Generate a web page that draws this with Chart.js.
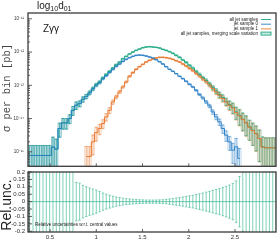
<!DOCTYPE html>
<html>
<head>
<meta charset="utf-8">
<script src="https://cdn.jsdelivr.net/npm/chart.js@4.4.1/dist/chart.umd.min.js"></script>
<style>
  body { margin: 0; background: #fff; }
  #wrap { position: relative; width: 277px; height: 240px; }
  canvas { position: absolute; left: 0; }
  #topCanvas { top: 0; }
  #relCanvas { top: 164px; }
</style>
</head>
<body>
<div id="wrap">
  <canvas id="topCanvas" width="277" height="173"></canvas>
  <canvas id="relCanvas" width="277" height="76"></canvas>
</div>
<script>
  // bin centres of log10(d01)
  const binCenters = [
    0.28, 0.316, 0.352, 0.388, 0.424, 0.46, 0.496, 0.532, 0.568, 0.604,
    0.64, 0.676, 0.712, 0.748, 0.784, 0.82, 0.856, 0.892, 0.928, 0.964,
    1.0, 1.036, 1.072, 1.108, 1.144, 1.18, 1.216, 1.252, 1.288, 1.324,
    1.36, 1.396, 1.432, 1.468, 1.504, 1.54, 1.576, 1.612, 1.648, 1.684,
    1.72, 1.756, 1.792, 1.828, 1.864, 1.9, 1.936, 1.972, 2.008, 2.044,
    2.08, 2.116, 2.152, 2.188, 2.224, 2.26, 2.296, 2.332, 2.368, 2.404,
    2.44, 2.476, 2.512, 2.548, 2.584, 2.62, 2.656, 2.692, 2.728, 2.764,
    2.8, 2.836, 2.872, 2.908, 2.944
  ];

  // sigma per bin [pb], stored as log10
  const allJetsLog = [
    -15.11, -15.11, -15.11, -15.11, -15.11, -15.11, -15.11, -14.86, -14.92, -14.3,
    -14.13, -14.13, -14.0, -13.75, -13.6, -13.55, -13.42, -13.33, -13.22, -13.1,
    -12.98, -12.9, -12.78, -12.68, -12.58, -12.48, -12.38, -12.3, -12.2, -12.13,
    -12.06, -12.0, -11.95, -11.91, -11.87, -11.85, -11.84, -11.85, -11.86, -11.88,
    -11.92, -11.95, -11.99, -12.04, -12.1, -12.16, -12.24, -12.31, -12.4, -12.48,
    -12.58, -12.67, -12.77, -12.85, -12.96, -13.07, -13.17, -13.28, -13.37, -13.48,
    -13.58, -13.66, -13.8, -13.9, -14.02, -14.12, -14.25, -14.35, -14.45, -14.6,
    -14.85, -14.88, -14.88, -14.88, -14.88
  ];
  const jet0Log = [
    -15.11, -15.11, -15.11, -15.11, -15.11, -15.11, -15.11, -14.86, -14.92, -14.3,
    -14.13, -14.13, -14.0, -13.75, -13.6, -13.55, -13.42, -13.34, -13.23, -13.11,
    -13.0, -12.92, -12.8, -12.71, -12.61, -12.52, -12.43, -12.36, -12.28, -12.22,
    -12.17, -12.13, -12.1, -12.09, -12.1, -12.12, -12.15, -12.18, -12.23, -12.29,
    -12.36, -12.44, -12.52, -12.58, -12.65, -12.73, -12.8, -12.88, -12.97, -13.05,
    -13.15, -13.28, -13.38, -13.5, -13.62, -13.8, -13.95, -14.1, -14.3, -14.5,
    -14.7, -14.95, -14.85, -15.2, null, null, null, null, null, null,
    null, null, null, null, null
  ];
  const jet1Log = [
    null, null, null, null, null, null, null, null, null, null,
    null, null, null, null, null, null, null, -15.14, -15.14, -14.7,
    -14.42, -14.3, -14.15, -13.95, -13.75, -13.5, -13.35, -13.2, -13.05, -12.9,
    -12.73, -12.62, -12.52, -12.44, -12.37, -12.3, -12.25, -12.21, -12.18, -12.16,
    -12.16, -12.17, -12.19, -12.22, -12.26, -12.3, -12.36, -12.42, -12.49, -12.56,
    -12.64, -12.72, -12.81, -12.89, -12.99, -13.1, -13.2, -13.3, -13.4, -13.5,
    -13.6, -13.68, -13.82, -13.92, -14.03, -14.13, -14.26, -14.36, -14.46, -14.6,
    -14.86, -14.88, -14.88, -14.88, -14.88
  ];

  // relative half-widths of the error boxes in the main panel
  const allJetsErr = [
    1, 1, 1, 1, 1, 1, 1, 1, 1, 0.45,
    0.35, 0.35, 0.3, 0.3, 0.25, 0.2, 0.18, 0.15, 0.13, 0.12,
    0.1, 0.09, 0.08, 0.07, 0.06, 0.05, 0.045, 0.04, 0.035, 0.03,
    0.025, 0.025, 0.025, 0.025, 0.025, 0.025, 0.025, 0.025, 0.025, 0.025,
    0.025, 0.03, 0.03, 0.035, 0.04, 0.045, 0.05, 0.055, 0.06, 0.07,
    0.08, 0.09, 0.1, 0.11, 0.13, 0.15, 0.17, 0.2, 0.22, 0.25,
    0.3, 0.35, 0.4, 0.5, 0.55, 0.6, 0.6, 0.65, 0.7, 0.8,
    1, 1, 1, 1, 1
  ];
  const jet0Err = [
    1, 1, 1, 1, 1, 1, 1, 1, 1, 0.45,
    0.35, 0.35, 0.3, 0.3, 0.25, 0.2, 0.18, 0.15, 0.13, 0.12,
    0.1, 0.09, 0.08, 0.07, 0.06, 0.05, 0.045, 0.04, 0.035, 0.03,
    0.025, 0.025, 0.025, 0.025, 0.025, 0.025, 0.025, 0.025, 0.025, 0.025,
    0.025, 0.025, 0.025, 0.025, 0.025, 0.025, 0.03, 0.035, 0.04, 0.05,
    0.06, 0.07, 0.08, 0.1, 0.12, 0.15, 0.18, 0.22, 0.28, 0.35,
    0.45, 0.6, 0.8, 1, 0, 0, 0, 0, 0, 0,
    0, 0, 0, 0, 0
  ];
  const jet1Err = [
    0, 0, 0, 0, 0, 0, 0, 0, 0, 0,
    0, 0, 0, 0, 0, 0, 0, 1, 1, 0.6,
    0.45, 0.35, 0.3, 0.25, 0.2, 0.15, 0.12, 0.1, 0.08, 0.07,
    0.06, 0.05, 0.04, 0.03, 0.03, 0.03, 0.03, 0.03, 0.03, 0.03,
    0.03, 0.03, 0.03, 0.03, 0.03, 0.03, 0.05, 0.055, 0.06, 0.07,
    0.08, 0.09, 0.1, 0.11, 0.13, 0.15, 0.17, 0.2, 0.22, 0.25,
    0.3, 0.35, 0.4, 0.5, 0.55, 0.6, 0.6, 0.65, 0.7, 0.8,
    1, 1, 1, 1, 1
  ];

  // lower panel: relative uncertainties w.r.t. central values
  const relUnc = [
    1, 1, 1, 1, 1, 1, 1, 1, 1, 0.45,
    0.35, 0.3, 0.28, 0.25, 0.13, 0.125, 0.11, 0.1, 0.092, 0.085,
    0.078, 0.068, 0.058, 0.05, 0.043, 0.037, 0.031, 0.027, 0.023, 0.02,
    0.018, 0.016, 0.014, 0.013, 0.012, 0.011, 0.011, 0.011, 0.011, 0.012,
    0.013, 0.015, 0.018, 0.021, 0.024, 0.027, 0.031, 0.035, 0.039, 0.043,
    0.048, 0.053, 0.058, 0.064, 0.07, 0.076, 0.082, 0.088, 0.095, 0.103,
    0.112, 0.122, 0.14, 0.17, 0.2, 1, 1, 1, 1, 1,
    1, 1, 1, 1, 1
  ];

  const xTicks = [0.5, 1, 1.5, 2, 2.5];
  const yTicksTop = [1e-15, 1e-14, 1e-13, 1e-12, 1e-11];
  const yTicksRel = [0.2, 0.15, 0.1, 0.05, 0, -0.05, -0.1, -0.15, -0.2];
  const yLabelsRel = ["0.2", "0.15", "0.1", "0.05", "0", "-0.05", "-0.1", "-0.15", "-0.2"];
  const legendLabels = ["all jet samples", "jet sample 0", "jet sample 1", "all jet samples, merging scale variation"];

  const TEAL = "#1fa884";
  const BLUE = "#2a7fc6";
  const ORANGE = "#e8772e";
  const FRAME = "#3a3a3a";

  Chart.defaults.font.family = "'Liberation Sans', Arial, sans-serif";
  Chart.defaults.color = "#333";

  const SUP = { "-": "\u207b", "0": "\u2070", "1": "\u00b9", "2": "\u00b2", "3": "\u00b3", "4": "\u2074", "5": "\u2075", "6": "\u2076", "7": "\u2077", "8": "\u2078", "9": "\u2079" };
  const powLabel = v => "10" + String(Math.round(Math.log10(v))).split("").map(c => SUP[c]).join("");

  const toPoints = logs => binCenters.map((c, i) => ({ x: c, y: logs[i] == null ? null : Math.pow(10, logs[i]) }));

  function clipArea(ctx, a) {
    ctx.beginPath();
    ctx.rect(a.left, a.top, a.right - a.left, a.bottom - a.top);
    ctx.clip();
  }

  // error boxes + bars for one histogram
  function drawBins(chart, logs, errs, color) {
    const { ctx, chartArea: a, scales: { x, y } } = chart;
    const half = (binCenters[1] - binCenters[0]) / 2;
    ctx.save();
    clipArea(ctx, a);
    ctx.lineWidth = 0.6;
    logs.forEach((lv, i) => {
      if (lv == null) return;
      const v = Math.pow(10, lv), e = errs[i];
      const yHi = y.getPixelForValue(v * (1 + e));
      const yLo = e >= 1 ? a.bottom + 2 : y.getPixelForValue(v * (1 - e));
      const xc = x.getPixelForValue(binCenters[i]);
      const x0 = x.getPixelForValue(binCenters[i] - half);
      const x1 = x.getPixelForValue(binCenters[i] + half);
      ctx.fillStyle = color + "1c";
      ctx.fillRect(x0, yHi, x1 - x0, yLo - yHi);
      ctx.strokeStyle = color + "55";
      ctx.strokeRect(x0, yHi, x1 - x0, yLo - yHi);
      ctx.strokeStyle = color + "cc";
      ctx.beginPath();
      ctx.moveTo(xc, yHi); ctx.lineTo(xc, yLo);
      ctx.moveTo(xc - 1.2, yHi); ctx.lineTo(xc + 1.2, yHi);
      ctx.moveTo(xc - 1.2, yLo); ctx.lineTo(xc + 1.2, yLo);
      ctx.stroke();
    });
    ctx.restore();
  }

  function drawFrame(chart, majorY, minorY) {
    const { ctx, chartArea: a, scales: { x, y } } = chart;
    ctx.save();
    ctx.strokeStyle = FRAME;
    ctx.lineWidth = 0.8;
    ctx.beginPath();
    majorY.forEach(v => { const p = y.getPixelForValue(v); ctx.moveTo(a.left, p); ctx.lineTo(a.left + 4, p); });
    minorY.forEach(v => { const p = y.getPixelForValue(v); ctx.moveTo(a.left, p); ctx.lineTo(a.left + 2, p); });
    xTicks.forEach(v => { const p = x.getPixelForValue(v); ctx.moveTo(p, a.bottom); ctx.lineTo(p, a.bottom - 3); });
    ctx.stroke();
    ctx.lineWidth = 1.3;
    ctx.strokeRect(a.left, a.top, a.right - a.left, a.bottom - a.top);
    ctx.restore();
  }

  const logMinor = [];
  for (let n = -16; n <= -11; n++) for (let k = 2; k <= 9; k++) logMinor.push(k * Math.pow(10, n));
  const relMinor = [];
  for (let k = -20; k <= 20; k++) relMinor.push(k / 100);

  const topDecor = {
    id: "topDecor",
    beforeDatasetsDraw(chart) {
      drawBins(chart, jet0Log, jet0Err, BLUE);
      drawBins(chart, jet1Log, jet1Err, ORANGE);
      drawBins(chart, allJetsLog, allJetsErr, TEAL);
    },
    afterDraw(chart) {
      const { ctx, scales: { y } } = chart;
      drawFrame(chart, yTicksTop, logMinor.filter(v => v > y.min && v < y.max));
      ctx.save();
      ctx.fillStyle = "#222";
      // title
      let tx = 37;
      ctx.font = "10px 'Liberation Sans'";
      ctx.fillText("log", tx, 8.5); tx += ctx.measureText("log").width;
      ctx.font = "7px 'Liberation Sans'";
      ctx.fillText("10", tx, 11); tx += ctx.measureText("10").width;
      ctx.font = "10px 'Liberation Sans'";
      ctx.fillText("d", tx, 8.5); tx += ctx.measureText("d").width;
      ctx.font = "7px 'Liberation Sans'";
      ctx.fillText("01", tx, 11);
      // process label
      ctx.font = "10px 'Liberation Sans'";
      ctx.fillText("Z\u03b3\u03b3", 43, 32);
      // legend
      ctx.font = "4.5px 'Liberation Sans'";
      ctx.textAlign = "right";
      ctx.textBaseline = "middle";
      const legY = [19.5, 24.2, 28.9, 33.6];
      const legC = [TEAL, BLUE, ORANGE, TEAL];
      legendLabels.forEach((t, i) => {
        ctx.fillStyle = "#222";
        ctx.fillText(t, 258, legY[i]);
        ctx.strokeStyle = legC[i];
        ctx.lineWidth = 0.9;
        if (i < 3) {
          ctx.beginPath(); ctx.moveTo(261, legY[i]); ctx.lineTo(271, legY[i]); ctx.stroke();
        } else {
          ctx.fillStyle = TEAL + "40";
          ctx.fillRect(261, legY[i] - 1.5, 10, 3);
          ctx.strokeRect(261, legY[i] - 1.5, 10, 3);
        }
      });
      // y axis title
      ctx.translate(7, 88);
      ctx.rotate(-Math.PI / 2);
      ctx.textAlign = "center";
      ctx.fillStyle = "#444";
      ctx.font = "10.5px 'Liberation Mono'";
      ctx.fillText("\u03c3 per bin [pb]", 0, 0);
      ctx.restore();
    }
  };

  const relDecor = {
    id: "relDecor",
    beforeDatasetsDraw(chart) {
      const { ctx, chartArea: a, scales: { x, y } } = chart;
      ctx.save();
      clipArea(ctx, a);
      ctx.strokeStyle = "#4cbf9c";
      ctx.lineWidth = 0.7;
      ctx.beginPath();
      relUnc.forEach((r, i) => {
        const xc = x.getPixelForValue(binCenters[i]);
        const yHi = y.getPixelForValue(r), yLo = y.getPixelForValue(-r);
        ctx.moveTo(xc, yHi); ctx.lineTo(xc, yLo);
        ctx.moveTo(xc - 1.2, yHi); ctx.lineTo(xc + 1.2, yHi);
        ctx.moveTo(xc - 1.2, yLo); ctx.lineTo(xc + 1.2, yLo);
      });
      ctx.stroke();
      ctx.restore();
    },
    afterDraw(chart) {
      const { ctx } = chart;
      drawFrame(chart, yTicksRel, relMinor);
      ctx.save();
      ctx.fillStyle = "#222";
      ctx.font = "4.5px 'Liberation Sans'";
      ctx.textBaseline = "middle";
      ctx.fillText("Relative uncertainties w.r.t. central values", 35, 61);
      ctx.translate(7, 41);
      ctx.rotate(-Math.PI / 2);
      ctx.textAlign = "center";
      ctx.font = "14px 'Liberation Sans'";
      ctx.fillText("Rel.unc.", 0, 0);
      ctx.restore();
    }
  };

  const xRange = { min: 0.262, max: 2.943 };

  const topChart = new Chart(document.getElementById("topCanvas"), {
    type: "line",
    data: {
      datasets: [
        { label: legendLabels[1], data: toPoints(jet0Log), borderColor: BLUE },
        { label: legendLabels[2], data: toPoints(jet1Log), borderColor: ORANGE },
        { label: legendLabels[0], data: toPoints(allJetsLog), borderColor: TEAL }
      ].map(d => Object.assign(d, { stepped: "middle", borderWidth: 1, pointRadius: 0, spanGaps: false }))
    },
    options: {
      responsive: false,
      animation: false,
      events: [],
      layout: { padding: { top: 13, right: 1, bottom: 1, left: 0 } },
      plugins: { legend: { display: false }, tooltip: { enabled: false } },
      scales: {
        x: { type: "linear", min: xRange.min, max: xRange.max, display: false },
        y: {
          type: "logarithmic",
          min: 3.67e-16,
          max: 1.49e-11,
          afterFit: s => { s.width = 28; },
          afterBuildTicks: s => { s.ticks = yTicksTop.map(value => ({ value })); },
          grid: { display: false, drawTicks: false },
          border: { display: false },
          ticks: { font: { size: 4.5 }, padding: 4, autoSkip: false, callback: v => powLabel(v) }
        }
      }
    },
    plugins: [topDecor]
  });

  const relChart = new Chart(document.getElementById("relCanvas"), {
    type: "line",
    data: {
      datasets: [{
        label: "central",
        data: binCenters.map(c => ({ x: c, y: 0 })),
        borderColor: "#3fb994",
        borderWidth: 0.8,
        pointRadius: 0,
        stepped: "middle"
      }]
    },
    options: {
      responsive: false,
      animation: false,
      events: [],
      layout: { padding: { top: 8, right: 1, bottom: 0, left: 0 } },
      plugins: { legend: { display: false }, tooltip: { enabled: false } },
      scales: {
        x: {
          type: "linear", min: xRange.min, max: xRange.max,
          afterFit: s => { s.height = 8; },
          afterBuildTicks: s => { s.ticks = xTicks.map(value => ({ value })); },
          grid: { display: false, drawTicks: false },
          border: { display: false },
          ticks: { font: { size: 6 }, padding: 1.5, autoSkip: false, maxRotation: 0, callback: v => String(v) }
        },
        y: {
          min: -0.205, max: 0.2,
          afterFit: s => { s.width = 28; },
          afterBuildTicks: s => { s.ticks = yTicksRel.map(value => ({ value })); },
          grid: { display: false, drawTicks: false },
          border: { display: false },
          ticks: { font: { size: 6 }, padding: 3, autoSkip: false, callback: (v, i) => yLabelsRel[i] }
        }
      }
    },
    plugins: [relDecor]
  });
</script>
</body>
</html>
